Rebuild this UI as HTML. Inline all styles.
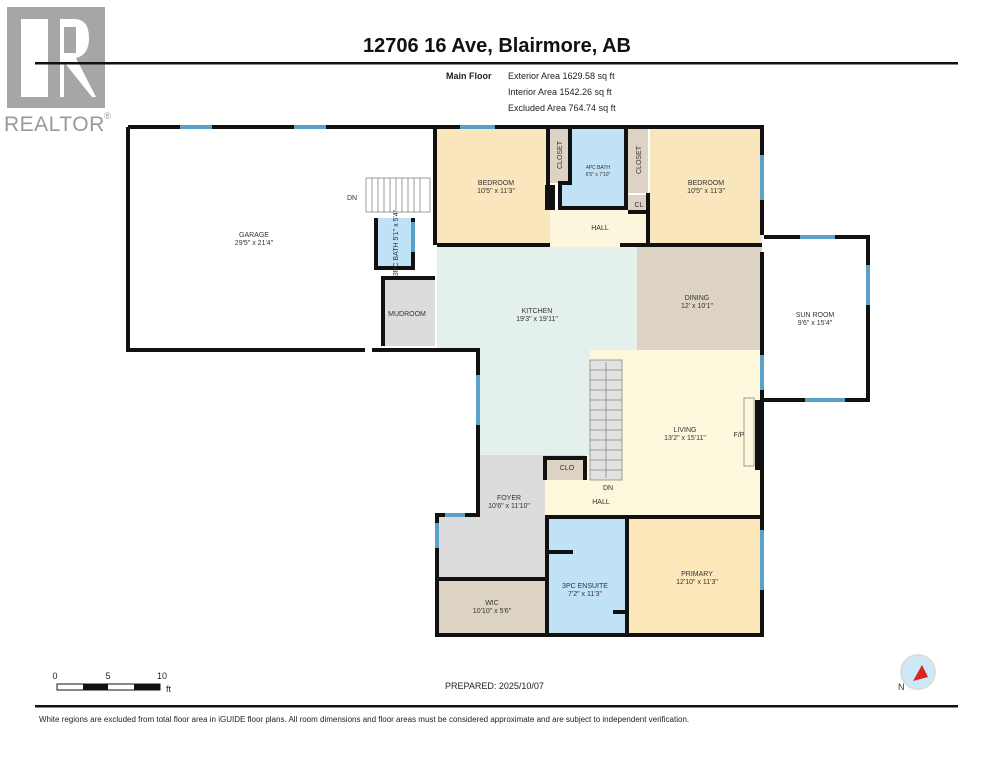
<!DOCTYPE html>
<html><head><meta charset="utf-8"><style>
html,body{margin:0;padding:0;background:#fff;}
svg{display:block;font-family:"Liberation Sans",sans-serif;}
.l{font-size:7px;fill:#333;text-anchor:middle;}
</style></head><body>
<svg width="994" height="768" viewBox="0 0 994 768" xmlns="http://www.w3.org/2000/svg">
<!-- logo -->
<rect x="7" y="7" width="98" height="101" fill="#a6a6a6"/>
<rect x="21" y="19" width="27" height="78" fill="#fff"/>
<path d="M60 19 H74 Q89 19 89 38 Q89 55 76 58 L96 97 H92 L64 62 V97 H60 Z" fill="#fff"/>
<rect x="64" y="27" width="12" height="26" fill="#a6a6a6"/>
<text x="4" y="131" font-size="21" fill="#999" letter-spacing="0.5">REALTOR</text>
<text x="104" y="119" font-size="9" fill="#999">®</text>
<!-- header -->
<text x="497" y="52" font-size="20" font-weight="bold" text-anchor="middle" fill="#111">12706 16 Ave, Blairmore, AB</text>
<rect x="35" y="62" width="923" height="2.5" fill="#111"/>
<text x="446" y="79" font-size="9" font-weight="bold" fill="#222">Main Floor</text>
<text x="508" y="79" font-size="9" fill="#222">Exterior Area 1629.58 sq ft</text>
<text x="508" y="95" font-size="9" fill="#222">Interior Area 1542.26 sq ft</text>
<text x="508" y="111" font-size="9" fill="#222">Excluded Area 764.74 sq ft</text>

<!-- room fills -->
<rect x="437" y="127" width="113" height="118" fill="#f9e6bd"/>
<rect x="650" y="127" width="112" height="118" fill="#f9e6bd"/>
<rect x="550" y="127" width="20" height="56" fill="#ddd3c5"/>
<rect x="628" y="127" width="20" height="66" fill="#ddd3c5"/>
<rect x="628" y="195" width="22" height="18" fill="#ddd3c5"/>
<rect x="570" y="127" width="56" height="81" fill="#bfe2f7"/>
<rect x="560" y="183" width="66" height="25" fill="#bfe2f7"/>
<rect x="550" y="210" width="100" height="37" fill="#fbf6dc"/>
<rect x="437" y="247" width="200" height="208" fill="#e3f0eb"/>
<rect x="637" y="247" width="125" height="103" fill="#ddd3c5"/>
<rect x="590" y="350" width="172" height="167" fill="#fdf8dc"/>
<rect x="545" y="455" width="60" height="62" fill="#fdf8dc"/>
<rect x="478" y="455" width="67" height="62" fill="#dcdcdc"/>
<rect x="437" y="515" width="108" height="64" fill="#dcdcdc"/>
<rect x="437" y="579" width="110" height="56" fill="#ddd3c5"/>
<rect x="547" y="517" width="80" height="118" fill="#bfe2f7"/>
<rect x="627" y="517" width="135" height="118" fill="#fbe7b9"/>
<rect x="376" y="218" width="37" height="50" fill="#bfe2f7"/>
<rect x="383" y="278" width="52" height="68" fill="#dcdcdc"/>
<rect x="437" y="350" width="40" height="165" fill="#fff"/>
<rect x="545" y="455" width="40" height="25" fill="#ddd3c5"/>
<!-- stairs -->
<g stroke="#888" stroke-width="0.8">
<rect x="590" y="360" width="32" height="120" fill="#e2e2e2"/>
<path d="M590 370H622M590 380H622M590 390H622M590 400H622M590 410H622M590 420H622M590 430H622M590 440H622M590 450H622M590 460H622M590 470H622M606 362V478"/>
<rect x="366" y="178" width="64" height="34" fill="#fff"/>
<path d="M372 178V212M378 178V212M384 178V212M390 178V212M396 178V212M402 178V212M408 178V212M414 178V212M420 178V212"/>
</g>
<!-- walls -->
<g fill="none" stroke="#111" stroke-width="4">
<path d="M128 127V350H365M372 350H437"/>
<path d="M128 127H762V235"/>
<path d="M435 127V245M437 245H550M620 245H762"/>
<path d="M762 252V350M762 345V400M762 400V515M762 515V635H437V515H478V455"/>
<path d="M478 350H437V350M437 350H478V455"/>
<path d="M548 127V200M570 127V183H560V208H626V127M648 193V245M650 212H628"/>
<path d="M383 346V278H435M376 218V268H413V218"/>
<path d="M545 517H762M547 517V635M627 517V635M437 579H545M547 552H573M613 612H627"/>
<path d="M545 480V458H585V480"/>
<path d="M764 237H868V400H764"/>
</g>
<rect x="545" y="185" width="10" height="25" fill="#111"/>
<rect x="755" y="400" width="9" height="70" fill="#111"/>
<rect x="744" y="398" width="10" height="68" fill="none" stroke="#888" stroke-width="0.8"/>
<!-- windows -->
<g fill="#5aa0c8">
<rect x="180" y="125" width="32" height="4"/><rect x="294" y="125" width="32" height="4"/>
<rect x="460" y="125" width="35" height="4"/>
<rect x="760" y="155" width="4" height="45"/><rect x="760" y="355" width="4" height="35"/><rect x="760" y="530" width="4" height="60"/>
<rect x="435" y="523" width="4" height="25"/><rect x="476" y="375" width="4" height="50"/>
<rect x="800" y="235" width="35" height="4"/><rect x="866" y="265" width="4" height="40"/><rect x="805" y="398" width="40" height="4"/>
<rect x="411" y="222" width="4" height="30"/><rect x="445" y="513" width="20" height="4"/>
</g>
<!-- labels -->
<g class="l">
<text x="254" y="237">GARAGE</text><text x="254" y="245">29'5" x 21'4"</text>
<text x="352" y="200">DN</text>
<text x="407" y="316">MUDROOM</text>
<text x="496" y="185">BEDROOM</text><text x="496" y="193">10'5" x 11'3"</text>
<text x="706" y="185">BEDROOM</text><text x="706" y="193">10'5" x 11'3"</text>
<text x="598" y="169" font-size="5">4PC BATH</text><text x="598" y="176" font-size="5">6'5" x 7'10"</text>
<text x="600" y="230">HALL</text>
<text x="639" y="207">CL</text>
<text x="537" y="313">KITCHEN</text><text x="537" y="321">19'3" x 19'11"</text>
<text x="697" y="300">DINING</text><text x="697" y="308">12' x 10'1"</text>
<text x="815" y="317">SUN ROOM</text><text x="815" y="325">9'6" x 15'4"</text>
<text x="685" y="432">LIVING</text><text x="685" y="440">13'2" x 15'11"</text>
<text x="739" y="437">F/P</text>
<text x="567" y="470">CLO</text>
<text x="608" y="490">DN</text><text x="601" y="504">HALL</text>
<text x="509" y="500">FOYER</text><text x="509" y="508">10'6" x 11'10"</text>
<text x="697" y="576">PRIMARY</text><text x="697" y="584">12'10" x 11'3"</text>
<text x="585" y="588">3PC ENSUITE</text><text x="585" y="596">7'2" x 11'3"</text>
<text x="492" y="605">WIC</text><text x="492" y="613">10'10" x 5'6"</text>
</g>
<text class="l" transform="translate(562,155) rotate(-90)">CLOSET</text>
<text class="l" transform="translate(641,160) rotate(-90)">CLOSET</text>
<text class="l" font-size="6" transform="translate(398,243) rotate(-90)">3PC BATH 5'1" x 5'4"</text>
<!-- footer -->
<g font-size="9" fill="#222">
<text x="55" y="679" text-anchor="middle">0</text><text x="108" y="679" text-anchor="middle">5</text><text x="162" y="679" text-anchor="middle">10</text>
<text x="166" y="692">ft</text>
</g>
<rect x="57" y="684" width="103" height="6" fill="#fff" stroke="#111" stroke-width="1"/>
<rect x="83" y="684" width="25" height="6" fill="#111"/><rect x="134" y="684" width="26" height="6" fill="#111"/>
<text x="445" y="689" font-size="9" fill="#222">PREPARED: 2025/10/07</text>
<circle cx="918" cy="672" r="17" fill="#cde9f7" stroke="#ddd" stroke-width="2"/>
<path d="M913 681L922 665L928 677Z" fill="#d22"/>
<text x="898" y="690" font-size="9" fill="#333">N</text>
<rect x="35" y="705" width="923" height="2.5" fill="#111"/>
<text x="39" y="722" font-size="8" fill="#222">White regions are excluded from total floor area in iGUIDE floor plans. All room dimensions and floor areas must be considered approximate and are subject to independent verification.</text>
</svg>
</body></html>
